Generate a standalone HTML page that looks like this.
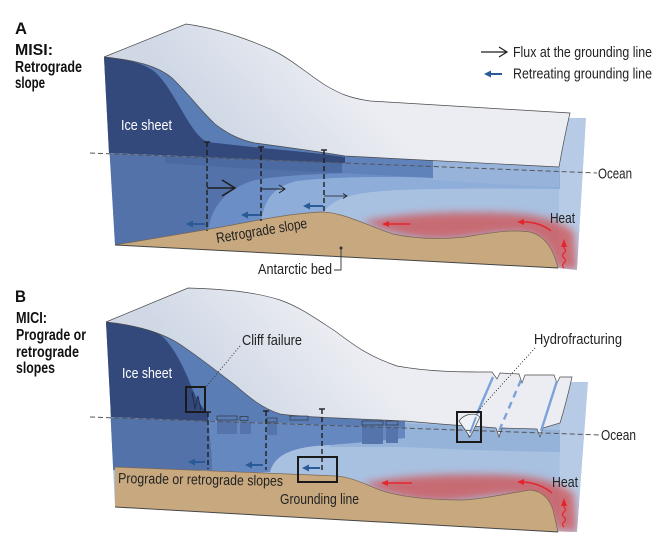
<!DOCTYPE html>
<html><head><meta charset="utf-8"><style>html,body{margin:0;padding:0;background:#fff;}svg{display:block}
.t{font-family:"Liberation Sans Narrow","Liberation Sans",sans-serif;font-size:14.5px;fill:#222}
.b{font-family:"Liberation Sans Narrow","Liberation Sans",sans-serif;font-weight:bold;font-size:15.5px;fill:#111}
</style></head><body>
<svg width="662" height="543" viewBox="0 0 662 543" xmlns="http://www.w3.org/2000/svg">
<defs>
 <linearGradient id="topA" gradientUnits="userSpaceOnUse" x1="330" y1="60" x2="235" y2="145">
  <stop offset="0" stop-color="#ebedf2"/><stop offset="1" stop-color="#d0d8e6"/>
 </linearGradient>
 <linearGradient id="topB" gradientUnits="userSpaceOnUse" x1="330" y1="322" x2="235" y2="410">
  <stop offset="0" stop-color="#ebedf2"/><stop offset="1" stop-color="#d0d8e6"/>
 </linearGradient>
 <filter id="bl" x="-20%" y="-50%" width="140%" height="200%"><feGaussianBlur stdDeviation="4"/></filter>
 <clipPath id="cA"><path d="M104,57 L586,57 L586,118 L577,270 L558,268 L115,245 Z"/></clipPath>
 <clipPath id="cB"><path d="M106,322 L588,322 L588,382 L577,532 L558,532 L115,507 Z"/></clipPath>
</defs>
<rect width="662" height="543" fill="#fff"/>

<!-- ================= PANEL A ================= -->
<g clip-path="url(#cA)">
<path d="M104,145 L345,152 L559,160 L566,118 L586,118 L577,270 L115,245 Z" fill="#a9c1e1"/>
<path d="M566,118 L586,118 L577,270 L559,268 L559,167 Z" fill="#b7cbe6"/>
<path d="M255,150 L560,168 L560,189 C450,188 400,189 372,192 C346,195 331,201 323,213 L323,260 L255,260 Z" fill="#8eaed9"/>
<path d="M200,150 L440,160 L440,178 C380,176 330,177 297,181 C274,186 263,200 261,224 L261,260 L200,260 Z" fill="#6a8ec5"/>
<path d="M100,153 L345,163 L345,173 C320,174 285,175 255,180 C228,188 211,205 208,232 L208,260 L100,260 Z" fill="#5372a9"/>
<path d="M165,156 L345,163 L345,173 C300,171 250,169 207,166 L165,163 Z" fill="#4b6aa2"/>
<path d="M342,156 L433,160 L433,178 L342,173 Z" fill="#5f82ba"/>
<path d="M433,160 L559,167 L559,187 C520,186 470,182 433,180 Z" fill="#97b3da"/>
<path d="M362,222 C395,214 450,211 505,213 C535,214 560,220 574,232 L577,270 L556,268 C552,252 546,240 530,234 C505,229 475,238 445,239 C415,240 390,233 362,222 Z" fill="#d24f50" opacity="0.75" filter="url(#bl)"/>
</g>
<path d="M115,245 L210,229 C250,222 290,213 323,212 C345,213 368,226 393,234 C420,240 445,239 465,237 C490,233 510,229 530,232 C545,236 553,248 558,268 Z" fill="#c8a97f"/>
<path d="M115,245 L210,229 C250,222 290,213 323,212 C345,213 368,226 393,234 C420,240 445,239 465,237 C490,233 510,229 530,232 C545,236 553,248 558,268" fill="none" stroke="#7b6650" stroke-width="0.7"/>
<line x1="115" y1="245" x2="558" y2="268" stroke="#444" stroke-width="1"/>
<path d="M104,57 C135,60 158,66 172,78 C188,93 200,110 215,124 C228,134 240,140 255,143 C285,147 315,151 345,156 L345,163 L109,153 Z" fill="#5a7db5"/>
<path d="M104,57 C128,59 145,64 155,72 C168,84 178,105 190,124 C196,133 201,139 207,142 L262,148 C295,151 325,154 345,157 L345,163 L109,153 Z" fill="#34497b"/>
<path d="M104,57 L186,24 C215,28 245,38 270,49 C290,58 305,72 325,85 C340,94 350,98 370,101 L570,113 C566,130 562,150 559,167 L345,156 C315,151 285,147 255,143 C240,140 228,134 215,124 C200,110 188,93 172,78 C158,66 135,60 104,57 Z" fill="url(#topA)" stroke="#4a4a4a" stroke-width="0.7"/>
<line x1="90" y1="153" x2="597" y2="173" stroke="#555" stroke-width="1" stroke-dasharray="5,3"/>
<g stroke="#1e1e1e" stroke-width="1.4">
 <line x1="207" y1="142" x2="207" y2="231" stroke-dasharray="5,3"/>
 <line x1="204" y1="142" x2="210" y2="142"/>
 <line x1="261" y1="147" x2="261" y2="221" stroke-dasharray="5,3"/>
 <line x1="258" y1="147" x2="264" y2="147"/>
 <line x1="324" y1="150" x2="324" y2="212" stroke-dasharray="5,3"/>
 <line x1="321" y1="150" x2="327" y2="150"/>
</g>
<g stroke="#1e1e1e" fill="none">
 <line x1="207" y1="188" x2="234" y2="188" stroke-width="1.5"/>
 <polyline points="222,180 235,188 222,196" stroke-width="1.5"/>
 <line x1="261" y1="189" x2="285" y2="189" stroke-width="1"/>
 <polyline points="279,185 285,189 279,193" stroke-width="1"/>
 <line x1="324" y1="196" x2="347" y2="196" stroke-width="0.8"/>
 <polyline points="343,193.5 347,196 343,198.5" stroke-width="0.8"/>
</g>
<g fill="#2b5a98" stroke="#2b5a98">
 <line x1="205" y1="224" x2="191" y2="224" stroke-width="2"/><polygon points="186,224 193,220.5 193,227.5" stroke="none"/>
 <line x1="260" y1="215" x2="246" y2="215" stroke-width="2"/><polygon points="241,215 248,211.5 248,218.5" stroke="none"/>
 <line x1="323" y1="206" x2="308" y2="206" stroke-width="2"/><polygon points="303,206 310,202.5 310,209.5" stroke="none"/>
</g>
<g stroke="#e3262e" fill="#e3262e">
 <line x1="410" y1="224" x2="388" y2="224" stroke-width="1.4"/><polygon points="382,224 389,221 389,227" stroke="none"/>
 <path d="M551,231 Q540,222 523,222" fill="none" stroke-width="1.4"/><polygon points="517,222 524,219 524,225" stroke="none"/>
 <path d="M564,268 q-3,-2.5 0,-5 q3,-2.5 0,-5 q-3,-2.5 0,-5 q3,-2.5 0,-5 L564,246" fill="none" stroke-width="1.2"/><polygon points="564,239 561,247 567,247" stroke="none"/>
</g>
<polyline points="334,270 341,270 341,249" fill="none" stroke="#333" stroke-width="0.9"/>
<circle cx="341" cy="248" r="1.5" fill="#333"/>

<line x1="481" y1="52" x2="506" y2="52" stroke="#1e1e1e" stroke-width="1.2"/>
<polyline points="499,47 507,52 499,57" fill="none" stroke="#1e1e1e" stroke-width="1.2"/>
<line x1="502" y1="74" x2="489" y2="74" stroke="#2b5a98" stroke-width="2"/>
<polygon points="484,74 491,70.5 491,77.5" fill="#2b5a98"/>
<text class="t" x="513" y="57" textLength="139" lengthAdjust="spacingAndGlyphs">Flux at the grounding line</text>
<text class="t" x="513" y="78.5" textLength="139" lengthAdjust="spacingAndGlyphs">Retreating grounding line</text>

<text class="b" x="15" y="34" style="font-size:17px" textLength="12" lengthAdjust="spacingAndGlyphs">A</text>
<text class="b" x="15" y="55" textLength="38" lengthAdjust="spacingAndGlyphs">MISI:</text>
<text class="b" x="15" y="72" textLength="67" lengthAdjust="spacingAndGlyphs">Retrograde</text>
<text class="b" x="15" y="88" textLength="30" lengthAdjust="spacingAndGlyphs">slope</text>
<text class="t" x="121" y="130" style="fill:#fff" textLength="51" lengthAdjust="spacingAndGlyphs">Ice sheet</text>
<text class="t" x="598" y="178.5" textLength="34" lengthAdjust="spacingAndGlyphs">Ocean</text>
<text class="t" x="550" y="223" textLength="25" lengthAdjust="spacingAndGlyphs">Heat</text>
<text class="t" x="217" y="243" transform="rotate(-9.5 217 243)" textLength="92" lengthAdjust="spacingAndGlyphs">Retrograde slope</text>
<text class="t" x="258" y="274" textLength="74" lengthAdjust="spacingAndGlyphs">Antarctic bed</text>

<!-- ================= PANEL B ================= -->
<g clip-path="url(#cB)">
<path d="M106,410 L405,415 L560,418 L569,382 L588,382 L577,532 L115,507 Z" fill="#a9c1e1"/>
<path d="M569,382 L588,382 L577,532 L559,530 L560,423 Z" fill="#b7cbe6"/>
<path d="M330,420 L560,430 L560,452 C480,451 430,448 400,447 L330,447 Z" fill="#95b2d9"/>
<path d="M207,421 L405,428 L405,438 C380,441 345,444 315,446 C288,449 274,457 270,472 L207,474 Z" fill="#6688c0"/>
<path d="M100,417 L208,421 C210,438 212,452 212,470 L100,470 Z" fill="#5372a9"/>
<g fill="#5574ab">
 <rect x="217" y="420" width="20" height="14"/>
 <rect x="240" y="420" width="11" height="14"/>
 <rect x="267" y="421" width="10" height="14"/>
 <rect x="362" y="425" width="21" height="19"/>
 <rect x="386" y="425" width="12" height="18"/>
</g>
<path d="M362,484 C395,476 450,473 505,475 C535,476 560,482 574,494 L577,532 L556,530 C552,514 546,502 530,496 C505,491 475,500 445,501 C415,502 390,495 362,484 Z" fill="#d24f50" opacity="0.75" filter="url(#bl)"/>
</g>
<path d="M115,467 L337,476 C355,478 366,485 380,490 C400,497 430,500 463,500 C485,499 510,493 530,490 C543,491 550,500 553,510 L558,532 L115,507 Z" fill="#c8a97f"/>
<path d="M115,467 L337,476 C355,478 366,485 380,490 C400,497 430,500 463,500 C485,499 510,493 530,490 C543,491 550,500 553,510 L558,532" fill="none" stroke="#7b6650" stroke-width="0.7"/>
<line x1="115" y1="507" x2="558" y2="532" stroke="#444" stroke-width="1"/>
<path d="M106,322 C135,325 160,332 178,343 C198,356 215,370 235,385 C250,398 262,408 280,414 C300,417 340,418 405,421 L405,428 L111,417 Z" fill="#5a7db5"/>
<path d="M106,322 C132,324 152,328 163,337 C173,347 181,362 188,378 C194,394 200,406 208,413 L208,421 L111,417 Z" fill="#34497b"/>
<path d="M106,322 L188,288 C225,289 255,292 280,300 C300,307 315,318 335,331 C350,342 365,355 397,366 C430,372 460,372 492,372 L497,379 L500,373 L519,374 L522,383 L525,375 L554,375 L557,383 L560,377 L572,377 C568,395 564,410 560,423 L543,428 L540,437 L537,429 L502,428 L499,437 L496,428 L472,426 L469,437 L466,426 L440,424 L405,421 C340,418 300,417 280,414 C262,408 250,398 235,385 C215,370 198,356 178,343 C160,332 135,325 106,322 Z" fill="url(#topB)" stroke="#4a4a4a" stroke-width="0.7"/>
<g stroke="#74a0d8" stroke-width="2.4" fill="none" opacity="0.95">
 <line x1="493" y1="377" x2="470" y2="430"/>
 <line x1="521" y1="380" x2="499" y2="431" stroke-dasharray="7,5"/>
 <line x1="557" y1="381" x2="541" y2="431"/>
</g>
<path d="M459,421 C464,414 474,412 480,417 L470,437 Z" fill="#eef1f6" stroke="#444" stroke-width="0.7"/>
<line x1="476" y1="417" x2="470" y2="433" stroke="#74a0d8" stroke-width="2"/>
<g fill="#5a7db5" stroke="#2a2a2a" stroke-width="0.6">
 <rect x="217" y="416" width="20" height="4"/>
 <rect x="240" y="416.5" width="8" height="4"/>
 <rect x="267" y="418" width="10" height="4"/>
 <rect x="290" y="416" width="18" height="4"/>
 <rect x="362" y="421" width="21" height="4"/>
 <rect x="386" y="421" width="12" height="4"/>
</g>
<path d="M192,392 L195,409 L198,396 L201,410" fill="none" stroke="#1e2a45" stroke-width="0.9"/>
<line x1="90" y1="417" x2="600" y2="435" stroke="#555" stroke-width="1" stroke-dasharray="5,3"/>
<g stroke="#1e1e1e" stroke-width="1.4">
 <line x1="208" y1="412" x2="208" y2="469" stroke-dasharray="5,3"/>
 <line x1="205" y1="412" x2="211" y2="412"/>
 <line x1="266" y1="411" x2="266" y2="470" stroke-dasharray="5,3"/>
 <line x1="263" y1="411" x2="269" y2="411"/>
 <line x1="322" y1="409" x2="322" y2="473" stroke-dasharray="5,3"/>
 <line x1="319" y1="409" x2="325" y2="409"/>
</g>
<g fill="#2b5a98" stroke="#2b5a98">
 <line x1="205" y1="462" x2="193" y2="462" stroke-width="2"/><polygon points="188,462 195,458.5 195,465.5" stroke="none"/>
 <line x1="263" y1="465" x2="250" y2="465" stroke-width="2"/><polygon points="245,465 252,461.5 252,468.5" stroke="none"/>
 <line x1="320" y1="468" x2="307" y2="468" stroke-width="2"/><polygon points="302,468 309,464.5 309,471.5" stroke="none"/>
</g>
<g stroke="#e3262e" fill="#e3262e">
 <line x1="412" y1="483" x2="388" y2="483" stroke-width="1.4"/><polygon points="381,483 388,480 388,486" stroke="none"/>
 <path d="M552,493 Q540,483 523,482" fill="none" stroke-width="1.4"/><polygon points="517,482 524,479 524,485" stroke="none"/>
 <path d="M564,527 q-3,-2.5 0,-5 q3,-2.5 0,-5 q-3,-2.5 0,-5 q3,-2.5 0,-5 L564,505" fill="none" stroke-width="1.2"/><polygon points="564,498 561,506 567,506" stroke="none"/>
</g>
<g fill="none" stroke="#1a1a1a" stroke-width="2">
 <rect x="186" y="387" width="19" height="25"/>
 <rect x="298" y="457" width="39" height="25"/>
 <rect x="457" y="412" width="24" height="30"/>
</g>
<line x1="240" y1="346" x2="205" y2="388" stroke="#333" stroke-width="1" stroke-dasharray="1,2"/>
<line x1="535" y1="348" x2="477" y2="412" stroke="#333" stroke-width="1" stroke-dasharray="1,2"/>

<text class="b" x="15" y="302" style="font-size:17px" textLength="11" lengthAdjust="spacingAndGlyphs">B</text>
<text class="b" x="16" y="323" textLength="31" lengthAdjust="spacingAndGlyphs">MICI:</text>
<text class="b" x="16" y="340" textLength="70" lengthAdjust="spacingAndGlyphs">Prograde or</text>
<text class="b" x="16" y="357" textLength="63" lengthAdjust="spacingAndGlyphs">retrograde</text>
<text class="b" x="16" y="373" textLength="39" lengthAdjust="spacingAndGlyphs">slopes</text>
<text class="t" x="122" y="378" style="fill:#fff" textLength="50" lengthAdjust="spacingAndGlyphs">Ice sheet</text>
<text class="t" x="242" y="345" textLength="60" lengthAdjust="spacingAndGlyphs">Cliff failure</text>
<text class="t" x="534" y="344" textLength="88" lengthAdjust="spacingAndGlyphs">Hydrofracturing</text>
<text class="t" x="601" y="440" textLength="35" lengthAdjust="spacingAndGlyphs">Ocean</text>
<text class="t" x="552" y="487" textLength="26" lengthAdjust="spacingAndGlyphs">Heat</text>
<text class="t" x="118" y="483" transform="rotate(1 118 483)" textLength="165" lengthAdjust="spacingAndGlyphs">Prograde or retrograde slopes</text>
<text class="t" x="280" y="504" textLength="79" lengthAdjust="spacingAndGlyphs">Grounding line</text>
</svg>
</body></html>
